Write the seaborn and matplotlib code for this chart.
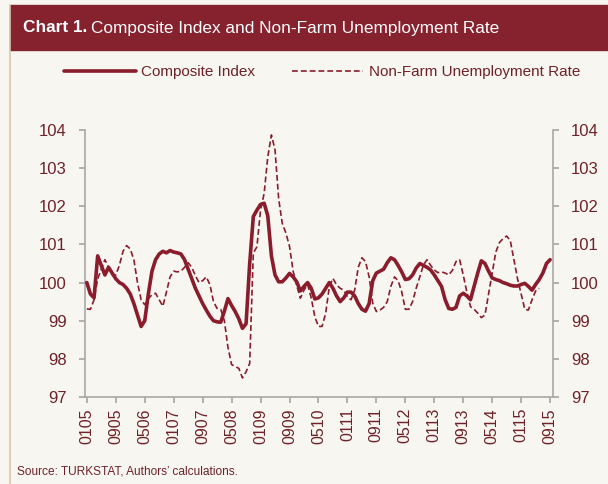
import numpy as np
import pandas as pd
import matplotlib
matplotlib.use("Agg")
import matplotlib.pyplot as plt
import seaborn as sns
from matplotlib.patches import Rectangle
from matplotlib.lines import Line2D

# values, monthly 01/2005 .. 09/2015
composite = [
    100.0, 99.7, 99.6, 100.7, 100.45, 100.2, 100.4, 100.25, 100.1, 100.0,
    99.95, 99.85, 99.7, 99.45, 99.15, 98.85, 99.0, 99.7, 100.3, 100.6,
    100.75, 100.82, 100.78, 100.84, 100.8, 100.78, 100.75, 100.6, 100.35, 100.1,
    99.85, 99.65, 99.45, 99.28, 99.12, 99.0, 98.97, 98.96, 99.25, 99.58,
    99.4, 99.24, 99.05, 98.8, 98.92, 100.5, 101.73, 101.9, 102.05, 102.08,
    101.75, 100.7, 100.2, 100.02, 100.02, 100.12, 100.24, 100.15, 100.02, 99.78,
    99.9, 100.0, 99.85, 99.57, 99.6, 99.7, 99.85, 100.0, 99.85, 99.65,
    99.5, 99.6, 99.75, 99.75, 99.65, 99.45, 99.3, 99.25, 99.45, 100.05,
    100.25, 100.3, 100.35, 100.52, 100.65, 100.6, 100.45, 100.28, 100.08, 100.1,
    100.2, 100.38, 100.5, 100.45, 100.4, 100.33, 100.2, 100.05, 99.9, 99.55,
    99.32, 99.3, 99.35, 99.65, 99.72, 99.65, 99.55, 99.9, 100.25, 100.57,
    100.5, 100.3, 100.12, 100.08, 100.05, 100.0, 99.97, 99.93, 99.91, 99.91,
    99.95, 99.98, 99.9, 99.8, 99.95, 100.08, 100.25, 100.5, 100.6,
]

unemployment = [
    99.31, 99.3, 99.55, 100.1, 100.35, 100.6, 100.4, 100.2, 100.2, 100.45,
    100.82, 100.97, 100.88, 100.6, 100.0, 99.55, 99.42, 99.58, 99.68, 99.72,
    99.55, 99.38, 99.75, 100.15, 100.3, 100.28, 100.3, 100.4, 100.52, 100.4,
    100.18, 100.0, 100.05, 100.15, 99.95, 99.5, 99.32, 99.3, 99.0, 98.3,
    97.85, 97.8, 97.75, 97.5, 97.66, 97.88, 100.77, 100.94, 101.9, 102.34,
    103.3, 103.87, 103.48, 102.2, 101.55, 101.3, 100.95, 100.3, 99.92, 99.59,
    99.8, 99.95, 99.6, 99.1, 98.85, 98.85, 99.2, 99.89, 100.11, 99.94,
    99.85, 99.8, 99.62, 99.55, 99.8, 100.4, 100.65, 100.55, 100.15, 99.46,
    99.24, 99.28, 99.35, 99.5, 99.9, 100.15, 100.05, 99.76, 99.3, 99.3,
    99.5, 99.85, 100.15, 100.46, 100.6, 100.45, 100.33, 100.26, 100.28, 100.25,
    100.2, 100.32, 100.55, 100.6, 100.2, 99.75, 99.37, 99.3, 99.2, 99.08,
    99.15, 99.7, 100.25, 100.8, 101.05, 101.15, 101.22, 101.1, 100.6, 100.1,
    99.7, 99.3, 99.28, 99.55, 99.78, 99.85,
]

tick_labels = ["0105", "0905", "0506", "0107", "0907", "0508", "0109", "0909",
               "0510", "0111", "0911", "0512", "0113", "0913", "0514", "0115", "0915"]
y_ticks = [97, 98, 99, 100, 101, 102, 103, 104]

bg = "#f8f6f1"
red = "#8a1c2c"
txt = "#6e2229"
spine = "#a8a8a8"

sns.set_theme(style="white")
plt.rcParams["font.family"] = ["Liberation Sans", "DejaVu Sans"]

fig = plt.figure(figsize=(6.08, 4.84), dpi=100, facecolor=bg)
ax = fig.add_axes([85 / 608, 1 - 397 / 484, 468 / 608, 267 / 484])
ax.set_facecolor(bg)
ax2 = ax.twinx()

df1 = pd.DataFrame({"m": np.arange(len(composite)), "v": composite})
df2 = pd.DataFrame({"m": np.arange(len(unemployment)), "v": unemployment})

sns.lineplot(data=df1, x="m", y="v", ax=ax, color=red, lw=2.6, zorder=3)
sns.lineplot(data=df2, x="m", y="v", ax=ax2, color=red, lw=1.2, zorder=2)
ax2.lines[0].set_dashes([3.5, 1.8])

for a in (ax, ax2):
    a.set_ylim(97, 104)
    a.set_xlim(-0.5, 128.8)
    a.set_yticks(y_ticks)
    a.set_ylabel("")
    a.set_xlabel("")
    for s in a.spines.values():
        s.set_color(spine)
        s.set_linewidth(1.2)
    a.spines["top"].set_visible(False)

ax.spines["right"].set_visible(False)
ax.tick_params(axis="y", left=True, direction="out", length=4, color=spine,
               labelsize=12, labelcolor=txt, pad=9)
ax.set_xticks(np.arange(0, 129, 8))
ax.set_xticklabels(tick_labels, rotation=90)
ax.tick_params(axis="x", bottom=True, direction="out", length=4, color=spine,
               labelsize=11.5, labelcolor=txt, pad=4)
ax2.spines["left"].set_visible(False)
ax2.spines["bottom"].set_visible(False)
ax2.tick_params(axis="y", right=True, direction="out", length=4, color=spine,
                labelsize=12, labelcolor=txt, pad=9)

# title banner and left border
fig.patches.append(Rectangle((10 / 608, 1 - 50 / 484), 598 / 608, 45 / 484,
                             transform=fig.transFigure, color="#86212e", zorder=0))
fig.lines.append(Line2D([9.5 / 608, 9.5 / 608], [0, 1 - 5 / 484], transform=fig.transFigure,
                        color="#dcc7a6", lw=1.2))


def fit_width(parts, x0, y, target, size):
    # place text pieces side by side, then shrink so the whole run is target px wide
    texts = []
    for s, w in parts:
        texts.append(fig.text(x0, y, s, color=parts_color[0], fontsize=size,
                              fontweight=w, va="center", ha="left"))
    for _ in range(2):
        fig.canvas.draw()
        x = x0 * 608
        for t in texts:
            t.set_x(x / 608)
            fig.canvas.draw()
            x = t.get_window_extent().x1 + 4
        width = x - 4 - x0 * 608
        for t in texts:
            t.set_fontsize(t.get_fontsize() * target / width)
    fig.canvas.draw()
    x = x0 * 608
    for t in texts:
        t.set_x(x / 608)
        fig.canvas.draw()
        x = t.get_window_extent().x1 + 4


parts_color = ["white"]
fit_width([("Chart 1.", "bold"), ("Composite Index and Non-Farm Unemployment Rate", "normal")],
          23 / 608, 1 - 28 / 484, 477, 12.5)

handles = [Line2D([], [], color=red, lw=2.6),
           Line2D([], [], color=red, lw=1.2, dashes=[3.5, 1.8])]
fig.legend(handles, ["Composite Index", "Non-Farm Unemployment Rate"],
           loc="center", bbox_to_anchor=(322 / 608, 1 - 72 / 484), ncol=2,
           frameon=False, fontsize=11, handlelength=4.7, columnspacing=2.4,
           handletextpad=0.35, labelcolor=txt)

src = fig.text(17 / 608, 1 - 472 / 484, "Source: TURKSTAT, Authors\u2019 calculations.",
               color=txt, fontsize=9, va="center", ha="left")
fig.canvas.draw()
src.set_fontsize(9 * 221 / src.get_window_extent().width)

fig.savefig("out.png", dpi=100, facecolor=bg)
